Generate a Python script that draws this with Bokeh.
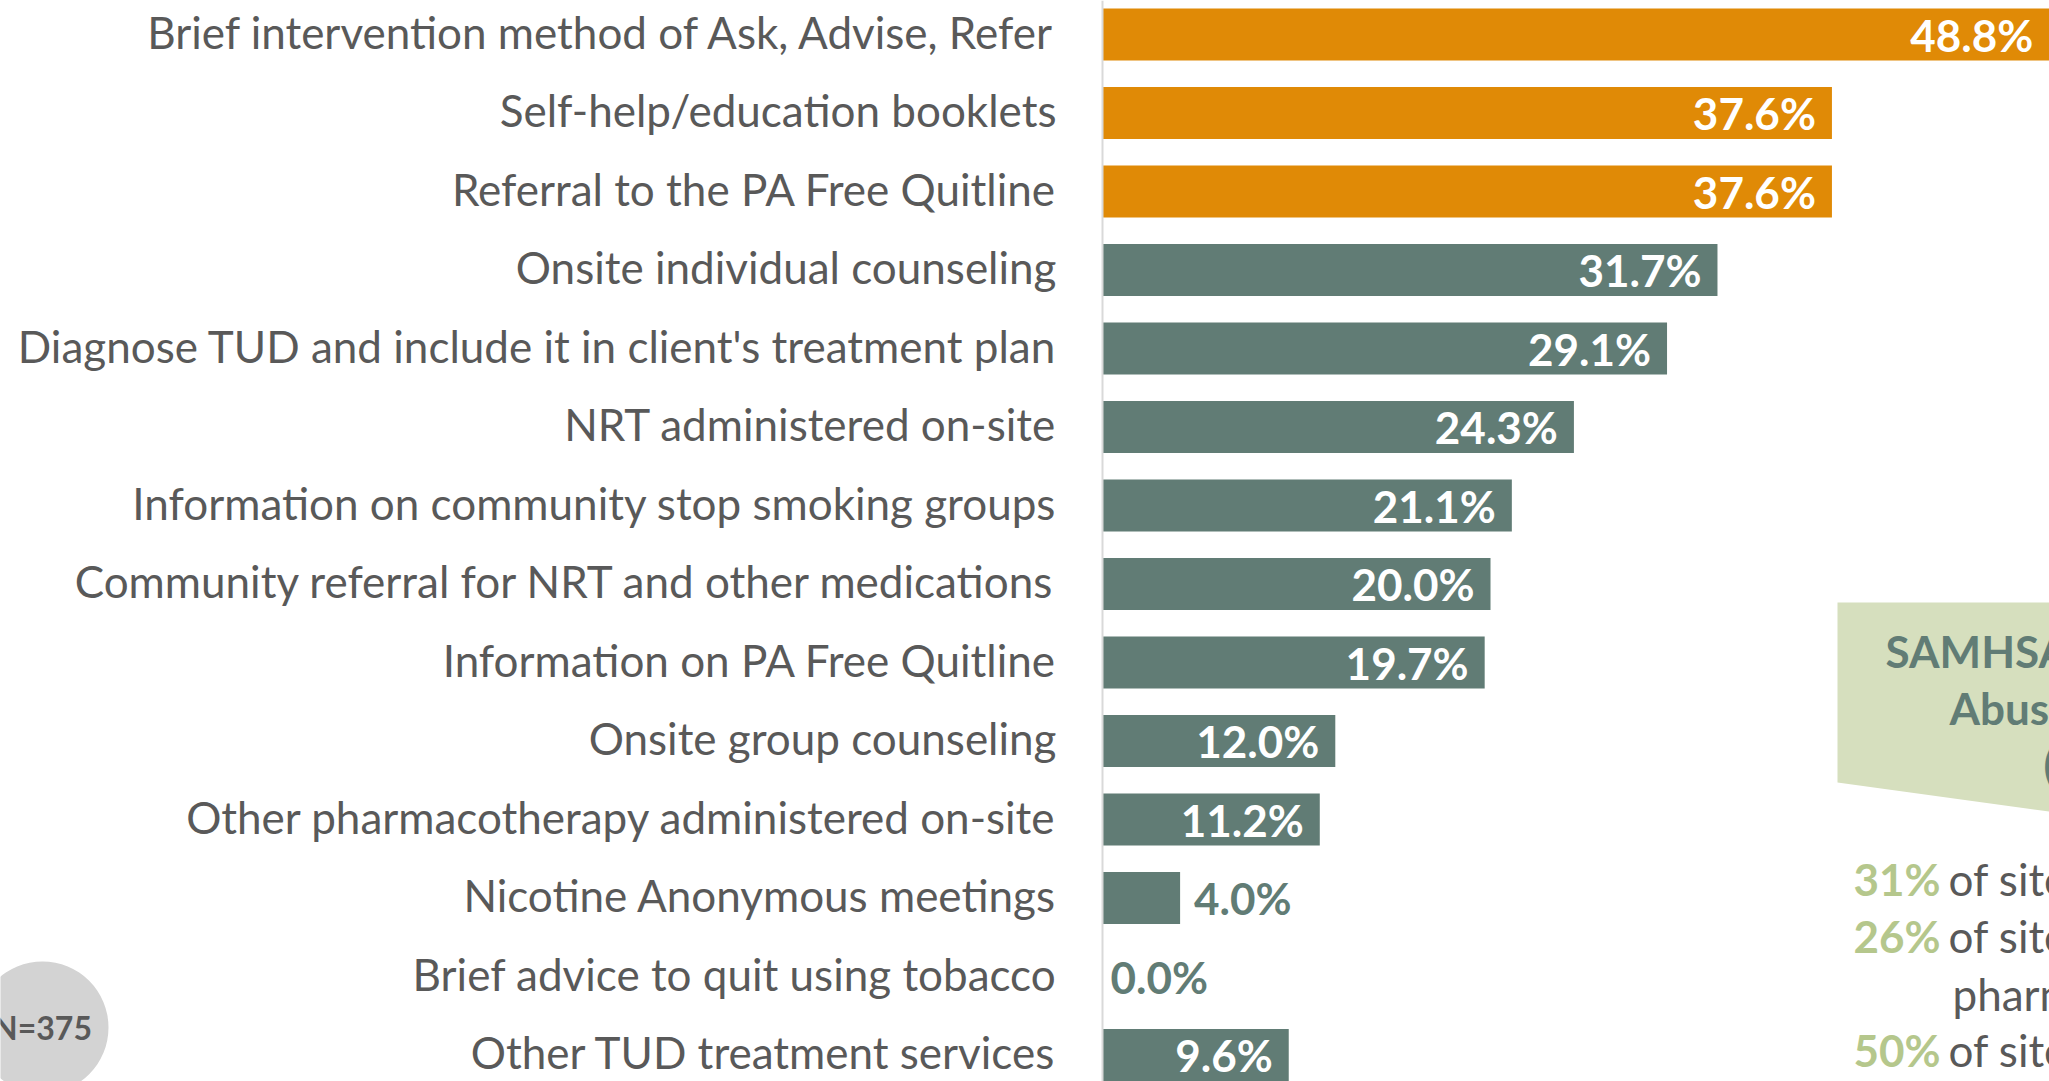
from bokeh.plotting import figure
from bokeh.models import Range1d, Span
from bokeh.core.properties import value
from bokeh.embed import file_html
from bokeh.resources import INLINE

# ---------------- data ----------------
categories = [
    "Brief intervention method of Ask, Advise, Refer",
    "Self-help/education booklets",
    "Referral to the PA Free Quitline",
    "Onsite individual counseling",
    "Diagnose TUD and include it in client's treatment plan",
    "NRT administered on-site",
    "Information on community stop smoking groups",
    "Community referral for NRT and other medications",
    "Information on PA Free Quitline",
    "Onsite group counseling",
    "Other pharmacotherapy administered on-site",
    "Nicotine Anonymous meetings",
    "Brief advice to quit using tobacco",
    "Other TUD treatment services",
]
values = [48.8, 37.6, 37.6, 31.7, 29.1, 24.3, 21.1, 20.0, 19.7, 12.0, 11.2, 4.0, 0.0, 9.6]
sample_label = "N=375"
box_title = ["SAMHSA National Survey of Substance", "Abuse Treatment Services", "(N-SSATS)"]
stat_values = ["31%", "26%", "50%"]
stat_texts = ["of sites offer counseling", "of sites offer", "of sites offer NRT"]
stat_extra = "pharmacotherapy"

# ---------------- layout helpers ----------------
W, H = 2049, 1081
PX_PER = 19.4          # pixels per percentage point
X0_REF = 1102          # page x of 0%
ROW0_REF = 34          # page y of first row centre
ROW_STEP = 78.5

def rx(px):
    return (px - X0_REF) / PX_PER

def ry(py):
    return (py - ROW0_REF) / ROW_STEP

ORANGE = "#E08A06"
TEAL = "#617C75"
GREY = "#595959"
BOX = "#D6DFBE"
GREEN = "#B5C78C"
FONT = value("Lato")
FS = "44px"

top3 = sorted(values, reverse=True)[2]
colors = [ORANGE if v >= top3 else TEAL for v in values]
idx = list(range(len(categories)))

p = figure(width=W, height=H, output_backend="svg", toolbar_location=None,
           x_range=Range1d(rx(0), rx(W)),
           y_range=Range1d(ry(H), ry(0)),
           x_axis_location=None, y_axis_location=None, min_border=0)
p.outline_line_color = None
p.grid.visible = False
p.background_fill_color = "white"

# axis line
p.add_layout(Span(location=0, dimension="height", line_color="#D9D9D9", line_width=2))

# bars
p.hbar(y=idx, left=0, right=values, height=52 / ROW_STEP, fill_color=colors, line_color=None)

# category labels
p.text(x=rx(1056), y=idx, text=categories, text_align="right", text_baseline="middle",
       y_offset=-3, text_font=FONT, text_font_size=FS, text_color=GREY)

# value labels
inside_y = [i for i, v in zip(idx, values) if v >= 9]
inside_v = [v for v in values if v >= 9]
out_y = [i for i, v in zip(idx, values) if v < 9]
out_v = [v for v in values if v < 9]
out_off = [14 if v > 0 else 8 for v in out_v]
p.text(x=inside_v, y=inside_y, text=[f"{v:.1f}%" for v in inside_v], x_offset=-16,
       text_align="right", text_baseline="middle", text_font=FONT, text_font_style="bold",
       text_font_size=FS, text_color="white")
p.text(x=out_v, y=out_y, text=[f"{v:.1f}%" for v in out_v], x_offset=out_off,
       text_align="left", text_baseline="middle", text_font=FONT, text_font_style="bold",
       text_font_size=FS, text_color=TEAL)

# callout box
p.patch(x=[rx(1837), rx(2070), rx(2070), rx(1837)],
        y=[ry(602), ry(602), ry(814), ry(782)], fill_color=BOX, line_color=None)
p.text(x=[rx(1885), rx(1949), rx(2043)], y=[ry(650), ry(707), ry(763)], text=box_title,
       text_align="left", text_baseline="middle", text_font=FONT, text_font_style="bold",
       text_font_size=FS, text_color=TEAL)

# stats lines
stat_y = [ry(878), ry(935), ry(1049)]
p.text(x=[rx(1853)] * 3, y=stat_y, text=stat_values, text_align="left", text_baseline="middle",
       text_font=FONT, text_font_style="bold", text_font_size=FS, text_color=GREEN)
p.text(x=[rx(1948)] * 3, y=stat_y, text=stat_texts, text_align="left", text_baseline="middle",
       text_font=FONT, text_font_size=FS, text_color=GREY)
p.text(x=[rx(1952)], y=[ry(993)], text=[stat_extra], text_align="left", text_baseline="middle",
       text_font=FONT, text_font_size=FS, text_color=GREY)

# N badge
p.scatter(x=[rx(42)], y=[ry(1027)], size=132, marker="circle", fill_color="#D3D3D3", line_color=None)
p.text(x=[rx(42)], y=[ry(1027)], text=[sample_label], text_align="center", text_baseline="middle",
       text_font=FONT, text_font_style="bold", text_font_size="32px", text_color=GREY)

open("out.html", "w").write(file_html(p, INLINE))
